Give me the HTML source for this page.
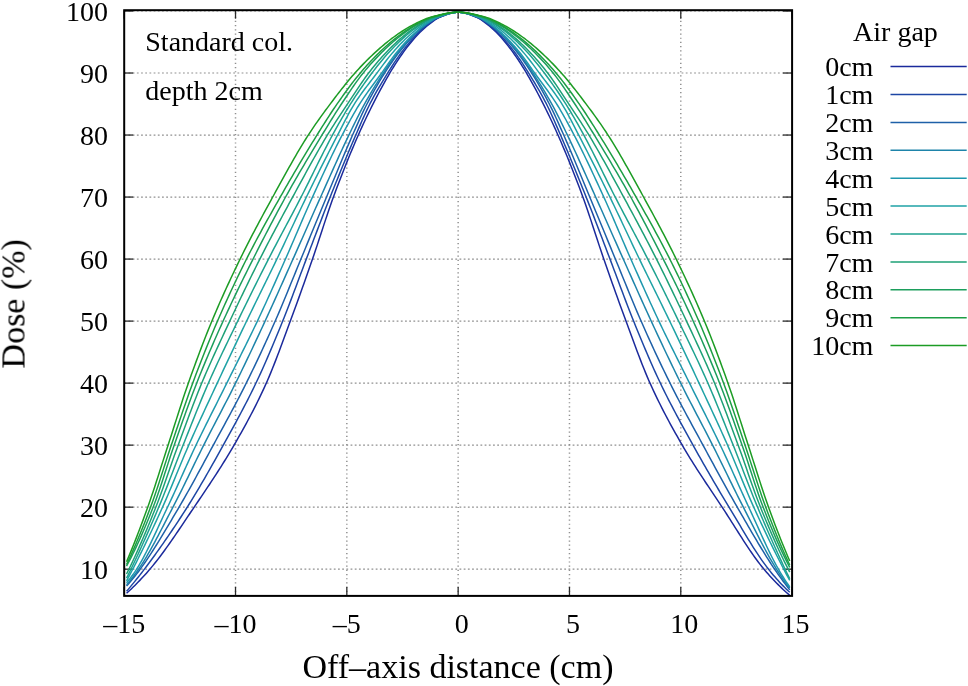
<!DOCTYPE html>
<html><head><meta charset="utf-8"><style>
html,body{margin:0;padding:0;background:#fff;}
svg{display:block;font-variant-ligatures:none;}
</style></head><body>
<svg width="968" height="686" viewBox="0 0 968 686">
<rect width="968" height="686" fill="#fff"/>
<g stroke="#909090" stroke-width="1.5" stroke-dasharray="1.2 2.99" stroke-dashoffset="0.2" fill="none"><line x1="235.52" y1="595.9" x2="235.52" y2="10.2"/><line x1="346.83" y1="595.9" x2="346.83" y2="10.2"/><line x1="458.15" y1="595.9" x2="458.15" y2="10.2"/><line x1="569.47" y1="595.9" x2="569.47" y2="10.2"/><line x1="680.78" y1="595.9" x2="680.78" y2="10.2"/><line x1="124.20" y1="569.18" x2="792.10" y2="569.18" stroke-width="1.2" stroke-dasharray="1.8 2.39" stroke-dashoffset="-0.1"/><line x1="124.20" y1="507.16" x2="792.10" y2="507.16" stroke-width="1.2" stroke-dasharray="1.8 2.39" stroke-dashoffset="-0.1"/><line x1="124.20" y1="445.14" x2="792.10" y2="445.14" stroke-width="1.2" stroke-dasharray="1.8 2.39" stroke-dashoffset="-0.1"/><line x1="124.20" y1="383.12" x2="792.10" y2="383.12" stroke-width="1.2" stroke-dasharray="1.8 2.39" stroke-dashoffset="-0.1"/><line x1="124.20" y1="321.10" x2="792.10" y2="321.10" stroke-width="1.2" stroke-dasharray="1.8 2.39" stroke-dashoffset="-0.1"/><line x1="124.20" y1="259.08" x2="792.10" y2="259.08" stroke-width="1.2" stroke-dasharray="1.8 2.39" stroke-dashoffset="-0.1"/><line x1="124.20" y1="197.06" x2="792.10" y2="197.06" stroke-width="1.2" stroke-dasharray="1.8 2.39" stroke-dashoffset="-0.1"/><line x1="124.20" y1="135.04" x2="792.10" y2="135.04" stroke-width="1.2" stroke-dasharray="1.8 2.39" stroke-dashoffset="-0.1"/><line x1="124.20" y1="73.02" x2="792.10" y2="73.02" stroke-width="1.2" stroke-dasharray="1.8 2.39" stroke-dashoffset="-0.1"/><line x1="124.20" y1="11.00" x2="792.10" y2="11.00" stroke-width="1.2" stroke-dasharray="1.8 2.39" stroke-dashoffset="-0.1"/></g>
<g stroke="#2a2a2a" stroke-width="1.3"><line x1="124.20" y1="595.9" x2="124.20" y2="586.90"/><line x1="124.20" y1="10.2" x2="124.20" y2="18.70"/><line x1="235.52" y1="595.9" x2="235.52" y2="586.90"/><line x1="235.52" y1="10.2" x2="235.52" y2="18.70"/><line x1="346.83" y1="595.9" x2="346.83" y2="586.90"/><line x1="346.83" y1="10.2" x2="346.83" y2="18.70"/><line x1="458.15" y1="595.9" x2="458.15" y2="586.90"/><line x1="458.15" y1="10.2" x2="458.15" y2="18.70"/><line x1="569.47" y1="595.9" x2="569.47" y2="586.90"/><line x1="569.47" y1="10.2" x2="569.47" y2="18.70"/><line x1="680.78" y1="595.9" x2="680.78" y2="586.90"/><line x1="680.78" y1="10.2" x2="680.78" y2="18.70"/><line x1="792.10" y1="595.9" x2="792.10" y2="586.90"/><line x1="792.10" y1="10.2" x2="792.10" y2="18.70"/><line x1="124.20" y1="569.18" x2="133.20" y2="569.18"/><line x1="792.10" y1="569.18" x2="783.10" y2="569.18"/><line x1="124.20" y1="507.16" x2="133.20" y2="507.16"/><line x1="792.10" y1="507.16" x2="783.10" y2="507.16"/><line x1="124.20" y1="445.14" x2="133.20" y2="445.14"/><line x1="792.10" y1="445.14" x2="783.10" y2="445.14"/><line x1="124.20" y1="383.12" x2="133.20" y2="383.12"/><line x1="792.10" y1="383.12" x2="783.10" y2="383.12"/><line x1="124.20" y1="321.10" x2="133.20" y2="321.10"/><line x1="792.10" y1="321.10" x2="783.10" y2="321.10"/><line x1="124.20" y1="259.08" x2="133.20" y2="259.08"/><line x1="792.10" y1="259.08" x2="783.10" y2="259.08"/><line x1="124.20" y1="197.06" x2="133.20" y2="197.06"/><line x1="792.10" y1="197.06" x2="783.10" y2="197.06"/><line x1="124.20" y1="135.04" x2="133.20" y2="135.04"/><line x1="792.10" y1="135.04" x2="783.10" y2="135.04"/><line x1="124.20" y1="73.02" x2="133.20" y2="73.02"/><line x1="792.10" y1="73.02" x2="783.10" y2="73.02"/><line x1="124.20" y1="11.00" x2="133.20" y2="11.00"/><line x1="792.10" y1="11.00" x2="783.10" y2="11.00"/></g>
<polyline fill="none" stroke="#1b2a9c" stroke-width="1.5" stroke-linejoin="round" points="126.55,593.31 128.21,591.79 129.87,590.25 131.52,588.67 133.18,587.07 134.84,585.44 136.50,583.78 138.16,582.09 139.81,580.37 141.47,578.61 143.13,576.82 144.79,575.00 146.45,573.15 148.10,571.26 149.76,569.34 151.42,567.38 153.08,565.37 154.74,563.32 156.39,561.23 158.05,559.09 159.71,556.92 161.37,554.72 163.03,552.48 164.68,550.21 166.34,547.91 168.00,545.59 169.66,543.24 171.32,540.87 172.97,538.48 174.63,536.07 176.29,533.65 177.95,531.21 179.61,528.77 181.26,526.31 182.92,523.85 184.58,521.38 186.24,518.91 187.90,516.44 189.55,513.97 191.21,511.51 192.87,509.05 194.53,506.60 196.19,504.16 197.84,501.71 199.50,499.26 201.16,496.81 202.82,494.36 204.48,491.90 206.13,489.43 207.79,486.95 209.45,484.46 211.11,481.95 212.77,479.44 214.42,476.90 216.08,474.35 217.74,471.78 219.40,469.19 221.06,466.58 222.71,463.94 224.37,461.27 226.03,458.58 227.69,455.87 229.35,453.12 231.00,450.34 232.66,447.52 234.32,444.67 235.98,441.80 237.64,438.91 239.29,435.99 240.95,433.05 242.61,430.09 244.27,427.09 245.93,424.06 247.58,420.99 249.24,417.89 250.90,414.75 252.56,411.56 254.22,408.33 255.87,405.04 257.53,401.71 259.19,398.32 260.85,394.88 262.51,391.37 264.16,387.81 265.82,384.18 267.48,380.46 269.14,376.62 270.80,372.65 272.45,368.57 274.11,364.40 275.77,360.14 277.43,355.81 279.09,351.42 280.74,346.98 282.40,342.51 284.06,338.01 285.72,333.50 287.38,329.00 289.03,324.51 290.69,320.05 292.35,315.57 294.01,311.06 295.67,306.52 297.32,301.96 298.98,297.37 300.64,292.75 302.30,288.11 303.96,283.44 305.61,278.75 307.27,274.05 308.93,269.32 310.59,264.57 312.25,259.81 313.90,255.00 315.56,250.09 317.22,245.12 318.88,240.09 320.54,235.02 322.19,229.95 323.85,224.89 325.51,219.87 327.17,214.89 328.83,210.00 330.48,205.20 332.14,200.52 333.80,195.98 335.46,191.51 337.12,187.10 338.77,182.73 340.43,178.42 342.09,174.15 343.75,169.93 345.41,165.77 347.06,161.65 348.72,157.58 350.38,153.56 352.04,149.59 353.70,145.67 355.35,141.80 357.01,137.98 358.67,134.20 360.33,130.49 361.99,126.84 363.64,123.25 365.30,119.72 366.96,116.24 368.62,112.82 370.28,109.46 371.93,106.14 373.59,102.87 375.25,99.63 376.91,96.43 378.57,93.27 380.22,90.15 381.88,87.07 383.54,84.04 385.20,81.07 386.86,78.15 388.51,75.28 390.17,72.48 391.83,69.73 393.49,67.04 395.15,64.40 396.80,61.81 398.46,59.29 400.12,56.84 401.78,54.45 403.44,52.12 405.09,49.86 406.75,47.67 408.41,45.53 410.07,43.45 411.73,41.42 413.38,39.47 415.04,37.58 416.70,35.77 418.36,34.02 420.02,32.32 421.67,30.69 423.33,29.14 424.99,27.64 426.65,26.20 428.31,24.82 429.96,23.54 431.62,22.32 433.28,21.11 434.94,19.95 436.60,18.88 438.25,17.95 439.91,17.19 441.57,16.53 443.23,15.88 444.89,15.24 446.54,14.64 448.20,14.07 449.86,13.56 451.52,13.12 453.18,12.75 454.83,12.48 456.49,12.30 458.15,12.24 459.81,12.30 461.47,12.48 463.12,12.75 464.78,13.12 466.44,13.56 468.10,14.07 469.76,14.64 471.41,15.24 473.07,15.88 474.73,16.53 476.39,17.19 478.05,17.95 479.70,18.88 481.36,19.95 483.02,21.11 484.68,22.32 486.34,23.54 487.99,24.82 489.65,26.20 491.31,27.64 492.97,29.14 494.63,30.69 496.28,32.32 497.94,34.02 499.60,35.77 501.26,37.58 502.92,39.47 504.57,41.42 506.23,43.45 507.89,45.53 509.55,47.67 511.21,49.86 512.86,52.12 514.52,54.45 516.18,56.84 517.84,59.29 519.50,61.81 521.15,64.40 522.81,67.04 524.47,69.73 526.13,72.48 527.79,75.28 529.44,78.15 531.10,81.07 532.76,84.04 534.42,87.07 536.08,90.15 537.73,93.27 539.39,96.43 541.05,99.63 542.71,102.87 544.37,106.14 546.02,109.46 547.68,112.82 549.34,116.24 551.00,119.72 552.66,123.25 554.31,126.84 555.97,130.49 557.63,134.20 559.29,137.98 560.95,141.80 562.60,145.67 564.26,149.59 565.92,153.56 567.58,157.58 569.24,161.65 570.89,165.77 572.55,169.93 574.21,174.15 575.87,178.42 577.53,182.73 579.18,187.10 580.84,191.51 582.50,195.98 584.16,200.52 585.82,205.20 587.47,210.00 589.13,214.89 590.79,219.87 592.45,224.89 594.11,229.95 595.76,235.02 597.42,240.09 599.08,245.12 600.74,250.09 602.40,255.00 604.05,259.81 605.71,264.57 607.37,269.32 609.03,274.05 610.69,278.75 612.34,283.44 614.00,288.11 615.66,292.75 617.32,297.37 618.98,301.96 620.63,306.52 622.29,311.06 623.95,315.57 625.61,320.05 627.27,324.51 628.92,329.00 630.58,333.50 632.24,338.01 633.90,342.51 635.56,346.98 637.21,351.42 638.87,355.81 640.53,360.14 642.19,364.40 643.85,368.57 645.50,372.65 647.16,376.62 648.82,380.46 650.48,384.18 652.14,387.81 653.79,391.37 655.45,394.88 657.11,398.32 658.77,401.71 660.43,405.04 662.08,408.33 663.74,411.56 665.40,414.75 667.06,417.89 668.72,420.99 670.37,424.06 672.03,427.09 673.69,430.09 675.35,433.05 677.01,435.99 678.66,438.91 680.32,441.80 681.98,444.67 683.64,447.52 685.30,450.33 686.95,453.10 688.61,455.83 690.27,458.53 691.93,461.20 693.59,463.84 695.24,466.45 696.90,469.04 698.56,471.61 700.22,474.16 701.88,476.69 703.53,479.21 705.19,481.72 706.85,484.21 708.51,486.70 710.17,489.18 711.82,491.66 713.48,494.13 715.14,496.61 716.80,499.10 718.46,501.58 720.11,504.08 721.77,506.59 723.43,509.11 725.09,511.66 726.75,514.23 728.40,516.82 730.06,519.43 731.72,522.04 733.38,524.67 735.04,527.29 736.69,529.91 738.35,532.52 740.01,535.13 741.67,537.72 743.33,540.29 744.98,542.84 746.64,545.36 748.30,547.86 749.96,550.31 751.62,552.73 753.27,555.11 754.93,557.44 756.59,559.72 758.25,561.94 759.91,564.11 761.56,566.21 763.22,568.25 764.88,570.22 766.54,572.15 768.20,574.04 769.85,575.90 771.51,577.72 773.17,579.51 774.83,581.26 776.49,582.97 778.14,584.64 779.80,586.28 781.46,587.88 783.12,589.44 784.78,590.96 786.43,592.44 788.09,593.89 789.75,595.29"/>
<polyline fill="none" stroke="#1d46a4" stroke-width="1.5" stroke-linejoin="round" points="126.55,591.32 128.21,589.36 129.87,587.38 131.52,585.39 133.18,583.38 134.84,581.35 136.50,579.30 138.16,577.23 139.81,575.13 141.47,573.00 143.13,570.85 144.79,568.67 146.45,566.46 148.10,564.24 149.76,562.01 151.42,559.76 153.08,557.49 154.74,555.21 156.39,552.91 158.05,550.60 159.71,548.27 161.37,545.92 163.03,543.56 164.68,541.18 166.34,538.79 168.00,536.38 169.66,533.95 171.32,531.50 172.97,529.04 174.63,526.57 176.29,524.07 177.95,521.56 179.61,519.03 181.26,516.49 182.92,513.93 184.58,511.35 186.24,508.75 187.90,506.14 189.55,503.50 191.21,500.82 192.87,498.12 194.53,495.40 196.19,492.64 197.84,489.86 199.50,487.06 201.16,484.24 202.82,481.39 204.48,478.53 206.13,475.65 207.79,472.75 209.45,469.83 211.11,466.90 212.77,463.96 214.42,461.01 216.08,458.04 217.74,455.07 219.40,452.09 221.06,449.10 222.71,446.11 224.37,443.11 226.03,440.12 227.69,437.12 229.35,434.12 231.00,431.11 232.66,428.10 234.32,425.07 235.98,422.02 237.64,418.96 239.29,415.87 240.95,412.76 242.61,409.63 244.27,406.47 245.93,403.27 247.58,400.04 249.24,396.77 250.90,393.47 252.56,390.12 254.22,386.72 255.87,383.28 257.53,379.78 259.19,376.22 260.85,372.61 262.51,368.94 264.16,365.22 265.82,361.46 267.48,357.65 269.14,353.80 270.80,349.90 272.45,345.98 274.11,342.02 275.77,338.03 277.43,334.01 279.09,329.97 280.74,325.91 282.40,321.83 284.06,317.72 285.72,313.53 287.38,309.29 289.03,304.98 290.69,300.64 292.35,296.25 294.01,291.84 295.67,287.41 297.32,282.96 298.98,278.52 300.64,274.08 302.30,269.65 303.96,265.25 305.61,260.88 307.27,256.54 308.93,252.19 310.59,247.83 312.25,243.47 313.90,239.10 315.56,234.74 317.22,230.39 318.88,226.04 320.54,221.71 322.19,217.39 323.85,213.10 325.51,208.83 327.17,204.60 328.83,200.39 330.48,196.22 332.14,192.08 333.80,187.94 335.46,183.82 337.12,179.72 338.77,175.64 340.43,171.57 342.09,167.53 343.75,163.51 345.41,159.51 347.06,155.53 348.72,151.58 350.38,147.66 352.04,143.76 353.70,139.90 355.35,136.07 357.01,132.25 358.67,128.42 360.33,124.61 361.99,120.82 363.64,117.10 365.30,113.45 366.96,109.90 368.62,106.48 370.28,103.20 371.93,100.03 373.59,96.94 375.25,93.93 376.91,90.99 378.57,88.11 380.22,85.29 381.88,82.51 383.54,79.77 385.20,77.06 386.86,74.38 388.51,71.71 390.17,69.08 391.83,66.48 393.49,63.93 395.15,61.43 396.80,58.99 398.46,56.60 400.12,54.29 401.78,52.04 403.44,49.85 405.09,47.72 406.75,45.64 408.41,43.62 410.07,41.65 411.73,39.75 413.38,37.91 415.04,36.14 416.70,34.43 418.36,32.77 420.02,31.17 421.67,29.64 423.33,28.18 424.99,26.75 426.65,25.39 428.31,24.11 429.96,22.91 431.62,21.73 433.28,20.57 434.94,19.48 436.60,18.49 438.25,17.65 439.91,16.97 441.57,16.33 443.23,15.70 444.89,15.09 446.54,14.51 448.20,13.97 449.86,13.49 451.52,13.07 453.18,12.72 454.83,12.46 456.49,12.30 458.15,12.24 459.81,12.30 461.47,12.46 463.12,12.72 464.78,13.07 466.44,13.49 468.10,13.97 469.76,14.51 471.41,15.09 473.07,15.70 474.73,16.33 476.39,16.97 478.05,17.65 479.70,18.49 481.36,19.48 483.02,20.57 484.68,21.73 486.34,22.91 487.99,24.11 489.65,25.39 491.31,26.75 492.97,28.18 494.63,29.64 496.28,31.17 497.94,32.77 499.60,34.43 501.26,36.14 502.92,37.91 504.57,39.75 506.23,41.65 507.89,43.62 509.55,45.64 511.21,47.72 512.86,49.85 514.52,52.04 516.18,54.29 517.84,56.60 519.50,58.99 521.15,61.43 522.81,63.93 524.47,66.48 526.13,69.08 527.79,71.71 529.44,74.38 531.10,77.06 532.76,79.77 534.42,82.51 536.08,85.29 537.73,88.11 539.39,90.99 541.05,93.93 542.71,96.94 544.37,100.03 546.02,103.20 547.68,106.48 549.34,109.90 551.00,113.45 552.66,117.10 554.31,120.82 555.97,124.61 557.63,128.42 559.29,132.25 560.95,136.07 562.60,139.90 564.26,143.76 565.92,147.66 567.58,151.58 569.24,155.53 570.89,159.51 572.55,163.51 574.21,167.53 575.87,171.57 577.53,175.64 579.18,179.72 580.84,183.82 582.50,187.94 584.16,192.08 585.82,196.22 587.47,200.39 589.13,204.60 590.79,208.83 592.45,213.10 594.11,217.39 595.76,221.71 597.42,226.04 599.08,230.39 600.74,234.74 602.40,239.10 604.05,243.47 605.71,247.83 607.37,252.19 609.03,256.54 610.69,260.88 612.34,265.25 614.00,269.65 615.66,274.08 617.32,278.52 618.98,282.96 620.63,287.41 622.29,291.84 623.95,296.25 625.61,300.64 627.27,304.98 628.92,309.29 630.58,313.53 632.24,317.72 633.90,321.83 635.56,325.91 637.21,329.97 638.87,334.01 640.53,338.03 642.19,342.02 643.85,345.98 645.50,349.90 647.16,353.80 648.82,357.65 650.48,361.46 652.14,365.22 653.79,368.94 655.45,372.61 657.11,376.22 658.77,379.78 660.43,383.28 662.08,386.72 663.74,390.12 665.40,393.47 667.06,396.77 668.72,400.04 670.37,403.27 672.03,406.47 673.69,409.63 675.35,412.76 677.01,415.87 678.66,418.96 680.32,422.02 681.98,425.07 683.64,428.10 685.30,431.11 686.95,434.12 688.61,437.12 690.27,440.12 691.93,443.11 693.59,446.11 695.24,449.09 696.90,452.06 698.56,455.02 700.22,457.96 701.88,460.90 703.53,463.81 705.19,466.72 706.85,469.61 708.51,472.49 710.17,475.35 711.82,478.21 713.48,481.05 715.14,483.88 716.80,486.70 718.46,489.50 720.11,492.30 721.77,495.08 723.43,497.85 725.09,500.61 726.75,503.36 728.40,506.10 730.06,508.83 731.72,511.58 733.38,514.35 735.04,517.12 736.69,519.91 738.35,522.70 740.01,525.49 741.67,528.27 743.33,531.05 744.98,533.81 746.64,536.55 748.30,539.28 749.96,541.97 751.62,544.64 753.27,547.28 754.93,549.88 756.59,552.43 758.25,554.94 759.91,557.40 761.56,559.80 763.22,562.15 764.88,564.43 766.54,566.65 768.20,568.79 769.85,570.88 771.51,572.91 773.17,574.90 774.83,576.84 776.49,578.73 778.14,580.59 779.80,582.39 781.46,584.16 783.12,585.87 784.78,587.55 786.43,589.18 788.09,590.77 789.75,592.31"/>
<polyline fill="none" stroke="#1e60a8" stroke-width="1.5" stroke-linejoin="round" points="126.55,586.11 128.21,584.20 129.87,582.25 131.52,580.28 133.18,578.26 134.84,576.20 136.50,574.09 138.16,571.93 139.81,569.71 141.47,567.42 143.13,565.09 144.79,562.72 146.45,560.30 148.10,557.84 149.76,555.34 151.42,552.80 153.08,550.23 154.74,547.62 156.39,544.99 158.05,542.32 159.71,539.64 161.37,536.93 163.03,534.19 164.68,531.44 166.34,528.68 168.00,525.89 169.66,523.10 171.32,520.30 172.97,517.49 174.63,514.67 176.29,511.85 177.95,509.03 179.61,506.21 181.26,503.37 182.92,500.50 184.58,497.61 186.24,494.69 187.90,491.75 189.55,488.78 191.21,485.80 192.87,482.80 194.53,479.79 196.19,476.76 197.84,473.72 199.50,470.67 201.16,467.61 202.82,464.55 204.48,461.48 206.13,458.41 207.79,455.33 209.45,452.26 211.11,449.19 212.77,446.13 214.42,443.07 216.08,440.01 217.74,436.97 219.40,433.92 221.06,430.88 222.71,427.83 224.37,424.78 226.03,421.73 227.69,418.66 229.35,415.59 231.00,412.50 232.66,409.40 234.32,406.28 235.98,403.14 237.64,399.98 239.29,396.79 240.95,393.58 242.61,390.34 244.27,387.07 245.93,383.77 247.58,380.43 249.24,377.07 250.90,373.68 252.56,370.27 254.22,366.83 255.87,363.36 257.53,359.87 259.19,356.35 260.85,352.81 262.51,349.24 264.16,345.65 265.82,342.03 267.48,338.38 269.14,334.72 270.80,331.02 272.45,327.31 274.11,323.57 275.77,319.80 277.43,315.99 279.09,312.12 280.74,308.21 282.40,304.25 284.06,300.26 285.72,296.25 287.38,292.21 289.03,288.15 290.69,284.08 292.35,280.00 294.01,275.92 295.67,271.85 297.32,267.78 298.98,263.73 300.64,259.71 302.30,255.70 303.96,251.68 305.61,247.66 307.27,243.63 308.93,239.60 310.59,235.57 312.25,231.54 313.90,227.51 315.56,223.49 317.22,219.46 318.88,215.45 320.54,211.43 322.19,207.43 323.85,203.43 325.51,199.44 327.17,195.46 328.83,191.47 330.48,187.46 332.14,183.46 333.80,179.45 335.46,175.44 337.12,171.43 338.77,167.44 340.43,163.46 342.09,159.49 343.75,155.55 345.41,151.64 347.06,147.75 348.72,143.90 350.38,140.08 352.04,136.31 353.70,132.57 355.35,128.83 357.01,125.11 358.67,121.41 360.33,117.77 361.99,114.19 363.64,110.69 365.30,107.29 366.96,104.01 368.62,100.82 370.28,97.70 371.93,94.63 373.59,91.63 375.25,88.68 376.91,85.79 378.57,82.96 380.22,80.18 381.88,77.45 383.54,74.78 385.20,72.16 386.86,69.59 388.51,67.08 390.17,64.63 391.83,62.23 393.49,59.88 395.15,57.59 396.80,55.35 398.46,53.17 400.12,51.04 401.78,48.97 403.44,46.94 405.09,44.97 406.75,43.05 408.41,41.18 410.07,39.37 411.73,37.62 413.38,35.93 415.04,34.30 416.70,32.71 418.36,31.17 420.02,29.71 421.67,28.30 423.33,26.93 424.99,25.62 426.65,24.37 428.31,23.21 429.96,22.08 431.62,20.95 433.28,19.88 434.94,18.89 436.60,18.02 438.25,17.29 439.91,16.68 441.57,16.07 443.23,15.47 444.89,14.89 446.54,14.35 448.20,13.85 449.86,13.40 451.52,13.01 453.18,12.69 454.83,12.44 456.49,12.29 458.15,12.24 459.81,12.29 461.47,12.44 463.12,12.69 464.78,13.01 466.44,13.40 468.10,13.85 469.76,14.35 471.41,14.89 473.07,15.47 474.73,16.07 476.39,16.68 478.05,17.29 479.70,18.02 481.36,18.89 483.02,19.88 484.68,20.95 486.34,22.08 487.99,23.21 489.65,24.37 491.31,25.62 492.97,26.93 494.63,28.30 496.28,29.71 497.94,31.17 499.60,32.71 501.26,34.30 502.92,35.93 504.57,37.62 506.23,39.37 507.89,41.18 509.55,43.05 511.21,44.97 512.86,46.94 514.52,48.97 516.18,51.04 517.84,53.17 519.50,55.35 521.15,57.59 522.81,59.88 524.47,62.23 526.13,64.63 527.79,67.08 529.44,69.59 531.10,72.16 532.76,74.78 534.42,77.45 536.08,80.18 537.73,82.96 539.39,85.79 541.05,88.68 542.71,91.63 544.37,94.63 546.02,97.70 547.68,100.82 549.34,104.01 551.00,107.29 552.66,110.69 554.31,114.19 555.97,117.77 557.63,121.41 559.29,125.11 560.95,128.83 562.60,132.57 564.26,136.31 565.92,140.08 567.58,143.90 569.24,147.75 570.89,151.64 572.55,155.55 574.21,159.49 575.87,163.46 577.53,167.44 579.18,171.43 580.84,175.44 582.50,179.45 584.16,183.46 585.82,187.46 587.47,191.47 589.13,195.46 590.79,199.44 592.45,203.43 594.11,207.43 595.76,211.43 597.42,215.45 599.08,219.46 600.74,223.49 602.40,227.51 604.05,231.54 605.71,235.57 607.37,239.60 609.03,243.63 610.69,247.66 612.34,251.68 614.00,255.70 615.66,259.71 617.32,263.73 618.98,267.78 620.63,271.85 622.29,275.92 623.95,280.00 625.61,284.08 627.27,288.15 628.92,292.21 630.58,296.25 632.24,300.26 633.90,304.25 635.56,308.21 637.21,312.12 638.87,315.99 640.53,319.80 642.19,323.57 643.85,327.31 645.50,331.02 647.16,334.72 648.82,338.38 650.48,342.03 652.14,345.65 653.79,349.24 655.45,352.81 657.11,356.35 658.77,359.87 660.43,363.36 662.08,366.83 663.74,370.27 665.40,373.68 667.06,377.07 668.72,380.43 670.37,383.77 672.03,387.07 673.69,390.34 675.35,393.58 677.01,396.79 678.66,399.98 680.32,403.14 681.98,406.28 683.64,409.40 685.30,412.50 686.95,415.59 688.61,418.66 690.27,421.73 691.93,424.78 693.59,427.83 695.24,430.88 696.90,433.92 698.56,436.97 700.22,440.01 701.88,443.07 703.53,446.13 705.19,449.19 706.85,452.25 708.51,455.31 710.17,458.37 711.82,461.42 713.48,464.47 715.14,467.52 716.80,470.56 718.46,473.59 720.11,476.61 721.77,479.63 723.43,482.63 725.09,485.63 726.75,488.61 728.40,491.58 730.06,494.53 731.72,497.47 733.38,500.40 735.04,503.31 736.69,506.20 738.35,509.07 740.01,511.95 741.67,514.83 743.33,517.71 744.98,520.59 746.64,523.46 748.30,526.33 749.96,529.18 751.62,532.03 753.27,534.86 754.93,537.68 756.59,540.48 758.25,543.26 759.91,546.01 761.56,548.75 763.22,551.46 764.88,554.14 766.54,556.79 768.20,559.41 769.85,561.99 771.51,564.54 773.17,567.05 774.83,569.52 776.49,571.94 778.14,574.31 779.80,576.64 781.46,578.93 783.12,581.19 784.78,583.41 786.43,585.60 788.09,587.76 789.75,589.89"/>
<polyline fill="none" stroke="#1e84aa" stroke-width="1.5" stroke-linejoin="round" points="126.55,584.81 128.21,582.87 129.87,580.88 131.52,578.83 133.18,576.71 134.84,574.53 136.50,572.26 138.16,569.90 139.81,567.45 141.47,564.91 143.13,562.28 144.79,559.58 146.45,556.81 148.10,553.96 149.76,551.06 151.42,548.10 153.08,545.09 154.74,542.04 156.39,538.95 158.05,535.82 159.71,532.67 161.37,529.49 163.03,526.30 164.68,523.10 166.34,519.89 168.00,516.68 169.66,513.48 171.32,510.29 172.97,507.11 174.63,503.93 176.29,500.70 177.95,497.43 179.61,494.14 181.26,490.81 182.92,487.46 184.58,484.09 186.24,480.70 187.90,477.30 189.55,473.90 191.21,470.49 192.87,467.08 194.53,463.68 196.19,460.29 197.84,456.91 199.50,453.55 201.16,450.21 202.82,446.89 204.48,443.61 206.13,440.35 207.79,437.11 209.45,433.89 211.11,430.68 212.77,427.49 214.42,424.31 216.08,421.13 217.74,417.95 219.40,414.78 221.06,411.60 222.71,408.41 224.37,405.22 226.03,402.02 227.69,398.79 229.35,395.55 231.00,392.29 232.66,389.01 234.32,385.70 235.98,382.36 237.64,378.99 239.29,375.61 240.95,372.21 242.61,368.79 244.27,365.35 245.93,361.90 247.58,358.44 249.24,354.96 250.90,351.47 252.56,347.96 254.22,344.44 255.87,340.92 257.53,337.38 259.19,333.83 260.85,330.27 262.51,326.70 264.16,323.12 265.82,319.54 267.48,315.93 269.14,312.31 270.80,308.67 272.45,305.01 274.11,301.34 275.77,297.66 277.43,293.97 279.09,290.27 280.74,286.56 282.40,282.84 284.06,279.12 285.72,275.40 287.38,271.68 289.03,267.96 290.69,264.24 292.35,260.53 294.01,256.83 295.67,253.11 297.32,249.38 298.98,245.65 300.64,241.92 302.30,238.18 303.96,234.44 305.61,230.69 307.27,226.95 308.93,223.21 310.59,219.47 312.25,215.74 313.90,212.01 315.56,208.30 317.22,204.59 318.88,200.89 320.54,197.20 322.19,193.52 323.85,189.82 325.51,186.13 327.17,182.42 328.83,178.72 330.48,175.02 332.14,171.33 333.80,167.65 335.46,163.97 337.12,160.32 338.77,156.68 340.43,153.06 342.09,149.47 343.75,145.91 345.41,142.37 347.06,138.87 348.72,135.41 350.38,131.97 352.04,128.54 353.70,125.12 355.35,121.73 357.01,118.38 358.67,115.08 360.33,111.84 361.99,108.68 363.64,105.59 365.30,102.59 366.96,99.65 368.62,96.76 370.28,93.93 371.93,91.14 373.59,88.39 375.25,85.69 376.91,83.03 378.57,80.41 380.22,77.82 381.88,75.26 383.54,72.73 385.20,70.23 386.86,67.77 388.51,65.34 390.17,62.96 391.83,60.62 393.49,58.34 395.15,56.11 396.80,53.94 398.46,51.83 400.12,49.77 401.78,47.76 403.44,45.81 405.09,43.90 406.75,42.04 408.41,40.23 410.07,38.48 411.73,36.79 413.38,35.16 415.04,33.57 416.70,32.03 418.36,30.55 420.02,29.14 421.67,27.77 423.33,26.45 424.99,25.18 426.65,23.98 428.31,22.86 429.96,21.74 431.62,20.65 433.28,19.61 434.94,18.67 436.60,17.84 438.25,17.16 439.91,16.56 441.57,15.96 443.23,15.38 444.89,14.82 446.54,14.29 448.20,13.80 449.86,13.36 451.52,12.98 453.18,12.67 454.83,12.44 456.49,12.29 458.15,12.24 459.81,12.29 461.47,12.44 463.12,12.67 464.78,12.98 466.44,13.36 468.10,13.80 469.76,14.29 471.41,14.82 473.07,15.38 474.73,15.96 476.39,16.56 478.05,17.16 479.70,17.84 481.36,18.67 483.02,19.61 484.68,20.65 486.34,21.74 487.99,22.86 489.65,23.98 491.31,25.18 492.97,26.45 494.63,27.77 496.28,29.14 497.94,30.55 499.60,32.03 501.26,33.57 502.92,35.16 504.57,36.79 506.23,38.48 507.89,40.23 509.55,42.04 511.21,43.90 512.86,45.81 514.52,47.76 516.18,49.77 517.84,51.83 519.50,53.94 521.15,56.11 522.81,58.34 524.47,60.62 526.13,62.96 527.79,65.34 529.44,67.77 531.10,70.23 532.76,72.73 534.42,75.26 536.08,77.82 537.73,80.41 539.39,83.03 541.05,85.69 542.71,88.39 544.37,91.14 546.02,93.93 547.68,96.76 549.34,99.65 551.00,102.59 552.66,105.59 554.31,108.68 555.97,111.84 557.63,115.08 559.29,118.38 560.95,121.73 562.60,125.12 564.26,128.54 565.92,131.97 567.58,135.41 569.24,138.87 570.89,142.37 572.55,145.91 574.21,149.47 575.87,153.06 577.53,156.68 579.18,160.32 580.84,163.97 582.50,167.65 584.16,171.33 585.82,175.02 587.47,178.72 589.13,182.42 590.79,186.13 592.45,189.82 594.11,193.52 595.76,197.20 597.42,200.89 599.08,204.59 600.74,208.30 602.40,212.01 604.05,215.74 605.71,219.47 607.37,223.21 609.03,226.95 610.69,230.69 612.34,234.44 614.00,238.18 615.66,241.92 617.32,245.65 618.98,249.38 620.63,253.11 622.29,256.83 623.95,260.53 625.61,264.24 627.27,267.96 628.92,271.68 630.58,275.40 632.24,279.12 633.90,282.84 635.56,286.56 637.21,290.27 638.87,293.97 640.53,297.66 642.19,301.34 643.85,305.01 645.50,308.67 647.16,312.31 648.82,315.93 650.48,319.54 652.14,323.12 653.79,326.70 655.45,330.27 657.11,333.83 658.77,337.38 660.43,340.92 662.08,344.44 663.74,347.96 665.40,351.47 667.06,354.96 668.72,358.44 670.37,361.90 672.03,365.35 673.69,368.79 675.35,372.21 677.01,375.61 678.66,378.99 680.32,382.36 681.98,385.70 683.64,389.01 685.30,392.29 686.95,395.55 688.61,398.79 690.27,402.02 691.93,405.22 693.59,408.41 695.24,411.60 696.90,414.78 698.56,417.95 700.22,421.13 701.88,424.31 703.53,427.49 705.19,430.68 706.85,433.89 708.51,437.11 710.17,440.35 711.82,443.61 713.48,446.89 715.14,450.20 716.80,453.53 718.46,456.88 720.11,460.24 721.77,463.62 723.43,467.00 725.09,470.39 726.75,473.78 728.40,477.17 730.06,480.56 731.72,483.94 733.38,487.31 735.04,490.66 736.69,494.00 738.35,497.32 740.01,500.61 741.67,503.88 743.33,507.11 744.98,510.34 746.64,513.59 748.30,516.85 749.96,520.12 751.62,523.39 753.27,526.65 754.93,529.91 756.59,533.16 758.25,536.38 759.91,539.58 761.56,542.76 763.22,545.89 764.88,548.99 766.54,552.05 768.20,555.05 769.85,558.01 771.51,560.90 773.17,563.72 774.83,566.48 776.49,569.16 778.14,571.76 779.80,574.28 781.46,576.74 783.12,579.13 784.78,581.46 786.43,583.74 788.09,585.97 789.75,588.16"/>
<polyline fill="none" stroke="#1f98ae" stroke-width="1.5" stroke-linejoin="round" points="126.55,582.82 128.21,580.82 129.87,578.74 131.52,576.58 133.18,574.31 134.84,571.93 136.50,569.42 138.16,566.77 139.81,563.99 141.47,561.08 143.13,558.06 144.79,554.94 146.45,551.72 148.10,548.43 149.76,545.06 151.42,541.63 153.08,538.15 154.74,534.63 156.39,531.08 158.05,527.50 159.71,523.92 161.37,520.34 163.03,516.77 164.68,513.22 166.34,509.70 168.00,506.22 169.66,502.71 171.32,499.17 172.97,495.58 174.63,491.96 176.29,488.32 177.95,484.66 179.61,480.98 181.26,477.30 182.92,473.61 184.58,469.93 186.24,466.26 187.90,462.60 189.55,458.96 191.21,455.35 192.87,451.78 194.53,448.24 196.19,444.75 197.84,441.30 199.50,437.87 201.16,434.46 202.82,431.08 204.48,427.72 206.13,424.38 207.79,421.05 209.45,417.73 211.11,414.43 212.77,411.12 214.42,407.83 216.08,404.54 217.74,401.24 219.40,397.94 221.06,394.64 222.71,391.33 224.37,388.01 226.03,384.67 227.69,381.33 229.35,377.99 231.00,374.66 232.66,371.35 234.32,368.03 235.98,364.72 237.64,361.41 239.29,358.10 240.95,354.78 242.61,351.45 244.27,348.12 245.93,344.77 247.58,341.41 249.24,338.04 250.90,334.64 252.56,331.22 254.22,327.78 255.87,324.32 257.53,320.82 259.19,317.30 260.85,313.74 262.51,310.16 264.16,306.56 265.82,302.94 267.48,299.30 269.14,295.64 270.80,291.96 272.45,288.27 274.11,284.57 275.77,280.86 277.43,277.14 279.09,273.41 280.74,269.68 282.40,265.95 284.06,262.21 285.72,258.48 287.38,254.72 289.03,250.93 290.69,247.12 292.35,243.28 294.01,239.43 295.67,235.57 297.32,231.70 298.98,227.84 300.64,223.98 302.30,220.13 303.96,216.30 305.61,212.50 307.27,208.72 308.93,204.98 310.59,201.27 312.25,197.62 313.90,193.99 315.56,190.37 317.22,186.76 318.88,183.16 320.54,179.57 322.19,176.00 323.85,172.45 325.51,168.91 327.17,165.40 328.83,161.92 330.48,158.46 332.14,155.04 333.80,151.64 335.46,148.28 337.12,144.96 338.77,141.68 340.43,138.44 342.09,135.25 343.75,132.09 345.41,128.96 347.06,125.85 348.72,122.78 350.38,119.76 352.04,116.78 353.70,113.86 355.35,111.01 357.01,108.22 358.67,105.51 360.33,102.89 361.99,100.34 363.64,97.87 365.30,95.46 366.96,93.10 368.62,90.78 370.28,88.50 371.93,86.24 373.59,84.00 375.25,81.76 376.91,79.52 378.57,77.27 380.22,75.00 381.88,72.70 383.54,70.35 385.20,67.99 386.86,65.62 388.51,63.26 390.17,60.93 391.83,58.64 393.49,56.42 395.15,54.27 396.80,52.20 398.46,50.18 400.12,48.21 401.78,46.28 403.44,44.40 405.09,42.57 406.75,40.78 408.41,39.05 410.07,37.38 411.73,35.77 413.38,34.20 415.04,32.68 416.70,31.20 418.36,29.79 420.02,28.44 421.67,27.12 423.33,25.84 424.99,24.63 426.65,23.50 428.31,22.41 429.96,21.32 431.62,20.27 433.28,19.29 434.94,18.39 436.60,17.63 438.25,17.00 439.91,16.41 441.57,15.83 443.23,15.26 444.89,14.72 446.54,14.21 448.20,13.74 449.86,13.32 451.52,12.95 453.18,12.65 454.83,12.43 456.49,12.29 458.15,12.24 459.81,12.29 461.47,12.43 463.12,12.65 464.78,12.95 466.44,13.32 468.10,13.74 469.76,14.21 471.41,14.72 473.07,15.26 474.73,15.83 476.39,16.41 478.05,17.00 479.70,17.63 481.36,18.39 483.02,19.29 484.68,20.27 486.34,21.32 487.99,22.41 489.65,23.50 491.31,24.63 492.97,25.84 494.63,27.12 496.28,28.44 497.94,29.79 499.60,31.20 501.26,32.68 502.92,34.20 504.57,35.77 506.23,37.38 507.89,39.05 509.55,40.78 511.21,42.57 512.86,44.40 514.52,46.28 516.18,48.21 517.84,50.18 519.50,52.20 521.15,54.27 522.81,56.42 524.47,58.64 526.13,60.93 527.79,63.26 529.44,65.62 531.10,67.99 532.76,70.35 534.42,72.70 536.08,75.00 537.73,77.27 539.39,79.52 541.05,81.76 542.71,84.00 544.37,86.24 546.02,88.50 547.68,90.78 549.34,93.10 551.00,95.46 552.66,97.87 554.31,100.34 555.97,102.89 557.63,105.51 559.29,108.22 560.95,111.01 562.60,113.86 564.26,116.78 565.92,119.76 567.58,122.78 569.24,125.85 570.89,128.96 572.55,132.09 574.21,135.25 575.87,138.44 577.53,141.68 579.18,144.96 580.84,148.28 582.50,151.64 584.16,155.04 585.82,158.46 587.47,161.92 589.13,165.40 590.79,168.91 592.45,172.45 594.11,176.00 595.76,179.57 597.42,183.16 599.08,186.76 600.74,190.37 602.40,193.99 604.05,197.62 605.71,201.27 607.37,204.98 609.03,208.72 610.69,212.50 612.34,216.30 614.00,220.13 615.66,223.98 617.32,227.84 618.98,231.70 620.63,235.57 622.29,239.43 623.95,243.28 625.61,247.12 627.27,250.93 628.92,254.72 630.58,258.48 632.24,262.21 633.90,265.95 635.56,269.68 637.21,273.41 638.87,277.14 640.53,280.86 642.19,284.57 643.85,288.27 645.50,291.96 647.16,295.64 648.82,299.30 650.48,302.94 652.14,306.56 653.79,310.16 655.45,313.74 657.11,317.30 658.77,320.82 660.43,324.32 662.08,327.78 663.74,331.22 665.40,334.64 667.06,338.04 668.72,341.41 670.37,344.77 672.03,348.12 673.69,351.45 675.35,354.78 677.01,358.10 678.66,361.41 680.32,364.72 681.98,368.03 683.64,371.35 685.30,374.66 686.95,377.99 688.61,381.33 690.27,384.67 691.93,388.01 693.59,391.33 695.24,394.64 696.90,397.94 698.56,401.24 700.22,404.54 701.88,407.83 703.53,411.12 705.19,414.43 706.85,417.73 708.51,421.05 710.17,424.38 711.82,427.72 713.48,431.08 715.14,434.46 716.80,437.87 718.46,441.30 720.11,444.75 721.77,448.24 723.43,451.77 725.09,455.32 726.75,458.91 728.40,462.53 730.06,466.16 731.72,469.81 733.38,473.47 735.04,477.14 736.69,480.81 738.35,484.47 740.01,488.14 741.67,491.79 743.33,495.42 744.98,499.04 746.64,502.63 748.30,506.20 749.96,509.75 751.62,513.34 753.27,516.97 754.93,520.61 756.59,524.27 758.25,527.93 759.91,531.59 761.56,535.23 763.22,538.84 764.88,542.42 766.54,545.96 768.20,549.45 769.85,552.87 771.51,556.22 773.17,559.50 774.83,562.68 776.49,565.76 778.14,568.73 779.80,571.59 781.46,574.34 783.12,577.00 784.78,579.57 786.43,582.07 788.09,584.49 789.75,586.86"/>
<polyline fill="none" stroke="#1fa2a6" stroke-width="1.5" stroke-linejoin="round" points="126.55,580.90 128.21,577.80 129.87,574.66 131.52,571.49 133.18,568.29 134.84,565.06 136.50,561.80 138.16,558.51 139.81,555.19 141.47,551.85 143.13,548.47 144.79,545.07 146.45,541.65 148.10,538.20 149.76,534.73 151.42,531.23 153.08,527.70 154.74,524.16 156.39,520.59 158.05,517.00 159.71,513.39 161.37,509.76 163.03,506.11 164.68,502.39 166.34,498.59 168.00,494.73 169.66,490.81 171.32,486.85 172.97,482.85 174.63,478.84 176.29,474.80 177.95,470.77 179.61,466.74 181.26,462.73 182.92,458.75 184.58,454.81 186.24,450.92 187.90,447.09 189.55,443.32 191.21,439.59 192.87,435.88 194.53,432.20 196.19,428.54 197.84,424.90 199.50,421.27 201.16,417.67 202.82,414.08 204.48,410.50 206.13,406.93 207.79,403.37 209.45,399.82 211.11,396.27 212.77,392.72 214.42,389.17 216.08,385.62 217.74,382.07 219.40,378.52 221.06,374.97 222.71,371.43 224.37,367.90 226.03,364.37 227.69,360.85 229.35,357.33 231.00,353.82 232.66,350.32 234.32,346.82 235.98,343.32 237.64,339.84 239.29,336.36 240.95,332.88 242.61,329.42 244.27,325.96 245.93,322.50 247.58,319.06 249.24,315.63 250.90,312.21 252.56,308.80 254.22,305.41 255.87,302.03 257.53,298.65 259.19,295.27 260.85,291.90 262.51,288.53 264.16,285.16 265.82,281.79 267.48,278.42 269.14,275.04 270.80,271.65 272.45,268.25 274.11,264.84 275.77,261.42 277.43,257.98 279.09,254.53 280.74,251.05 282.40,247.57 284.06,244.07 285.72,240.55 287.38,237.04 289.03,233.52 290.69,229.99 292.35,226.47 294.01,222.95 295.67,219.44 297.32,215.94 298.98,212.45 300.64,208.98 302.30,205.52 303.96,202.08 305.61,198.67 307.27,195.28 308.93,191.90 310.59,188.52 312.25,185.15 313.90,181.79 315.56,178.44 317.22,175.10 318.88,171.77 320.54,168.45 322.19,165.14 323.85,161.84 325.51,158.56 327.17,155.29 328.83,152.03 330.48,148.79 332.14,145.56 333.80,142.34 335.46,139.15 337.12,135.97 338.77,132.79 340.43,129.58 342.09,126.35 343.75,123.14 345.41,119.95 347.06,116.80 348.72,113.72 350.38,110.73 352.04,107.84 353.70,105.08 355.35,102.45 357.01,99.92 358.67,97.47 360.33,95.09 361.99,92.77 363.64,90.51 365.30,88.28 366.96,86.09 368.62,83.92 370.28,81.76 371.93,79.61 373.59,77.45 375.25,75.28 376.91,73.08 378.57,70.85 380.22,68.61 381.88,66.37 383.54,64.15 385.20,61.95 386.86,59.78 388.51,57.66 390.17,55.61 391.83,53.62 393.49,51.68 395.15,49.78 396.80,47.93 398.46,46.12 400.12,44.35 401.78,42.63 403.44,40.94 405.09,39.31 406.75,37.72 408.41,36.19 410.07,34.70 411.73,33.25 413.38,31.84 415.04,30.48 416.70,29.18 418.36,27.92 420.02,26.69 421.67,25.51 423.33,24.38 424.99,23.33 426.65,22.30 428.31,21.28 429.96,20.29 431.62,19.36 433.28,18.50 434.94,17.76 436.60,17.15 438.25,16.59 439.91,16.04 441.57,15.50 443.23,14.98 444.89,14.48 446.54,14.01 448.20,13.58 449.86,13.20 451.52,12.88 453.18,12.61 454.83,12.41 456.49,12.28 458.15,12.24 459.81,12.28 461.47,12.41 463.12,12.61 464.78,12.88 466.44,13.20 468.10,13.58 469.76,14.01 471.41,14.48 473.07,14.98 474.73,15.50 476.39,16.04 478.05,16.59 479.70,17.15 481.36,17.76 483.02,18.50 484.68,19.36 486.34,20.29 487.99,21.28 489.65,22.30 491.31,23.33 492.97,24.38 494.63,25.51 496.28,26.69 497.94,27.92 499.60,29.18 501.26,30.48 502.92,31.84 504.57,33.25 506.23,34.70 507.89,36.19 509.55,37.72 511.21,39.31 512.86,40.94 514.52,42.63 516.18,44.35 517.84,46.12 519.50,47.93 521.15,49.78 522.81,51.68 524.47,53.62 526.13,55.61 527.79,57.66 529.44,59.78 531.10,61.95 532.76,64.15 534.42,66.37 536.08,68.61 537.73,70.85 539.39,73.08 541.05,75.28 542.71,77.45 544.37,79.61 546.02,81.76 547.68,83.92 549.34,86.09 551.00,88.28 552.66,90.51 554.31,92.77 555.97,95.09 557.63,97.47 559.29,99.92 560.95,102.45 562.60,105.08 564.26,107.84 565.92,110.73 567.58,113.72 569.24,116.80 570.89,119.95 572.55,123.14 574.21,126.35 575.87,129.58 577.53,132.79 579.18,135.97 580.84,139.15 582.50,142.34 584.16,145.56 585.82,148.79 587.47,152.03 589.13,155.29 590.79,158.56 592.45,161.84 594.11,165.14 595.76,168.45 597.42,171.77 599.08,175.10 600.74,178.44 602.40,181.79 604.05,185.15 605.71,188.52 607.37,191.90 609.03,195.28 610.69,198.67 612.34,202.08 614.00,205.52 615.66,208.98 617.32,212.45 618.98,215.94 620.63,219.44 622.29,222.95 623.95,226.47 625.61,229.99 627.27,233.52 628.92,237.04 630.58,240.55 632.24,244.07 633.90,247.57 635.56,251.05 637.21,254.53 638.87,257.98 640.53,261.42 642.19,264.84 643.85,268.25 645.50,271.65 647.16,275.04 648.82,278.42 650.48,281.79 652.14,285.16 653.79,288.53 655.45,291.90 657.11,295.27 658.77,298.65 660.43,302.03 662.08,305.41 663.74,308.80 665.40,312.21 667.06,315.63 668.72,319.06 670.37,322.50 672.03,325.96 673.69,329.42 675.35,332.88 677.01,336.36 678.66,339.84 680.32,343.32 681.98,346.82 683.64,350.32 685.30,353.82 686.95,357.33 688.61,360.85 690.27,364.37 691.93,367.90 693.59,371.43 695.24,374.97 696.90,378.52 698.56,382.07 700.22,385.62 701.88,389.17 703.53,392.72 705.19,396.27 706.85,399.82 708.51,403.37 710.17,406.93 711.82,410.50 713.48,414.08 715.14,417.67 716.80,421.27 718.46,424.90 720.11,428.54 721.77,432.20 723.43,435.88 725.09,439.59 726.75,443.32 728.40,447.09 730.06,450.92 731.72,454.82 733.38,458.76 735.04,462.74 736.69,466.76 738.35,470.79 740.01,474.82 741.67,478.86 743.33,482.88 744.98,486.87 746.64,490.83 748.30,494.75 749.96,498.61 751.62,502.40 753.27,506.11 754.93,509.75 756.59,513.37 758.25,516.97 759.91,520.55 761.56,524.10 763.22,527.63 764.88,531.14 766.54,534.62 768.20,538.08 769.85,541.51 771.51,544.92 773.17,548.30 774.83,551.65 776.49,554.97 778.14,558.26 779.80,561.53 781.46,564.76 783.12,567.97 784.78,571.14 786.43,574.28 788.09,577.39 789.75,580.47"/>
<polyline fill="none" stroke="#1ea290" stroke-width="1.5" stroke-linejoin="round" points="126.55,578.17 128.21,574.82 129.87,571.43 131.52,568.00 133.18,564.54 134.84,561.04 136.50,557.51 138.16,553.95 139.81,550.35 141.47,546.72 143.13,543.06 144.79,539.36 146.45,535.64 148.10,531.89 149.76,528.11 151.42,524.30 153.08,520.47 154.74,516.61 156.39,512.72 158.05,508.81 159.71,504.87 161.37,500.85 163.03,496.75 164.68,492.59 166.34,488.37 168.00,484.12 169.66,479.83 171.32,475.52 172.97,471.19 174.63,466.87 176.29,462.55 177.95,458.26 179.61,453.99 181.26,449.76 182.92,445.59 184.58,441.44 186.24,437.27 187.90,433.11 189.55,428.93 191.21,424.77 192.87,420.61 194.53,416.47 196.19,412.34 197.84,408.25 199.50,404.18 201.16,400.15 202.82,396.16 204.48,392.22 206.13,388.34 207.79,384.51 209.45,380.74 211.11,377.02 212.77,373.35 214.42,369.71 216.08,366.12 217.74,362.55 219.40,359.02 221.06,355.52 222.71,352.04 224.37,348.58 226.03,345.14 227.69,341.71 229.35,338.29 231.00,334.88 232.66,331.47 234.32,328.06 235.98,324.65 237.64,321.23 239.29,317.81 240.95,314.40 242.61,311.00 244.27,307.61 245.93,304.22 247.58,300.84 249.24,297.48 250.90,294.12 252.56,290.77 254.22,287.43 255.87,284.10 257.53,280.78 259.19,277.47 260.85,274.17 262.51,270.88 264.16,267.60 265.82,264.34 267.48,261.08 269.14,257.83 270.80,254.61 272.45,251.41 274.11,248.22 275.77,245.06 277.43,241.90 279.09,238.76 280.74,235.63 282.40,232.50 284.06,229.39 285.72,226.27 287.38,223.15 289.03,220.03 290.69,216.91 292.35,213.78 294.01,210.64 295.67,207.49 297.32,204.33 298.98,201.15 300.64,197.95 302.30,194.73 303.96,191.47 305.61,188.19 307.27,184.88 308.93,181.55 310.59,178.20 312.25,174.85 313.90,171.49 315.56,168.14 317.22,164.78 318.88,161.44 320.54,158.12 322.19,154.81 323.85,151.53 325.51,148.29 327.17,145.07 328.83,141.90 330.48,138.77 332.14,135.70 333.80,132.66 335.46,129.65 337.12,126.67 338.77,123.71 340.43,120.78 342.09,117.89 343.75,115.05 345.41,112.24 347.06,109.49 348.72,106.79 350.38,104.14 352.04,101.54 353.70,98.99 355.35,96.46 357.01,93.98 358.67,91.52 360.33,89.10 361.99,86.72 363.64,84.37 365.30,82.04 366.96,79.75 368.62,77.49 370.28,75.25 371.93,73.04 373.59,70.86 375.25,68.71 376.91,66.58 378.57,64.49 380.22,62.44 381.88,60.42 383.54,58.44 385.20,56.51 386.86,54.61 388.51,52.76 390.17,50.95 391.83,49.18 393.49,47.45 395.15,45.76 396.80,44.10 398.46,42.48 400.12,40.89 401.78,39.35 403.44,37.86 405.09,36.41 406.75,35.00 408.41,33.62 410.07,32.28 411.73,30.99 413.38,29.74 415.04,28.54 416.70,27.36 418.36,26.22 420.02,25.12 421.67,24.08 423.33,23.11 424.99,22.14 426.65,21.18 428.31,20.25 429.96,19.37 431.62,18.56 433.28,17.85 434.94,17.25 436.60,16.73 438.25,16.21 439.91,15.69 441.57,15.19 443.23,14.71 444.89,14.26 446.54,13.83 448.20,13.45 449.86,13.10 451.52,12.81 453.18,12.57 454.83,12.39 456.49,12.28 458.15,12.24 459.81,12.28 461.47,12.39 463.12,12.57 464.78,12.81 466.44,13.10 468.10,13.45 469.76,13.83 471.41,14.26 473.07,14.71 474.73,15.19 476.39,15.69 478.05,16.21 479.70,16.73 481.36,17.25 483.02,17.85 484.68,18.56 486.34,19.37 487.99,20.25 489.65,21.18 491.31,22.14 492.97,23.11 494.63,24.08 496.28,25.12 497.94,26.22 499.60,27.36 501.26,28.54 502.92,29.74 504.57,30.99 506.23,32.28 507.89,33.62 509.55,35.00 511.21,36.41 512.86,37.86 514.52,39.35 516.18,40.89 517.84,42.48 519.50,44.10 521.15,45.76 522.81,47.45 524.47,49.18 526.13,50.95 527.79,52.76 529.44,54.61 531.10,56.51 532.76,58.44 534.42,60.42 536.08,62.44 537.73,64.49 539.39,66.58 541.05,68.71 542.71,70.86 544.37,73.04 546.02,75.25 547.68,77.49 549.34,79.75 551.00,82.04 552.66,84.37 554.31,86.72 555.97,89.10 557.63,91.52 559.29,93.98 560.95,96.46 562.60,98.99 564.26,101.54 565.92,104.14 567.58,106.79 569.24,109.49 570.89,112.24 572.55,115.05 574.21,117.89 575.87,120.78 577.53,123.71 579.18,126.67 580.84,129.65 582.50,132.66 584.16,135.70 585.82,138.77 587.47,141.90 589.13,145.07 590.79,148.29 592.45,151.53 594.11,154.81 595.76,158.12 597.42,161.44 599.08,164.78 600.74,168.14 602.40,171.49 604.05,174.85 605.71,178.20 607.37,181.55 609.03,184.88 610.69,188.19 612.34,191.47 614.00,194.73 615.66,197.95 617.32,201.15 618.98,204.33 620.63,207.49 622.29,210.64 623.95,213.78 625.61,216.91 627.27,220.03 628.92,223.15 630.58,226.27 632.24,229.39 633.90,232.50 635.56,235.63 637.21,238.76 638.87,241.90 640.53,245.06 642.19,248.22 643.85,251.41 645.50,254.61 647.16,257.83 648.82,261.08 650.48,264.34 652.14,267.60 653.79,270.88 655.45,274.17 657.11,277.47 658.77,280.78 660.43,284.10 662.08,287.43 663.74,290.77 665.40,294.12 667.06,297.48 668.72,300.84 670.37,304.22 672.03,307.61 673.69,311.00 675.35,314.40 677.01,317.81 678.66,321.23 680.32,324.65 681.98,328.06 683.64,331.47 685.30,334.88 686.95,338.29 688.61,341.71 690.27,345.14 691.93,348.58 693.59,352.04 695.24,355.52 696.90,359.02 698.56,362.55 700.22,366.12 701.88,369.71 703.53,373.35 705.19,377.02 706.85,380.74 708.51,384.51 710.17,388.34 711.82,392.22 713.48,396.16 715.14,400.15 716.80,404.18 718.46,408.25 720.11,412.34 721.77,416.47 723.43,420.61 725.09,424.77 726.75,428.93 728.40,433.11 730.06,437.27 731.72,441.44 733.38,445.59 735.04,449.76 736.69,453.99 738.35,458.25 740.01,462.54 741.67,466.85 743.33,471.17 744.98,475.49 746.64,479.79 748.30,484.08 749.96,488.34 751.62,492.55 753.27,496.72 754.93,500.82 756.59,504.86 758.25,508.82 759.91,512.75 761.56,516.66 763.22,520.54 764.88,524.39 766.54,528.22 768.20,532.03 769.85,535.81 771.51,539.56 773.17,543.28 774.83,546.97 776.49,550.63 778.14,554.27 779.80,557.87 781.46,561.44 783.12,564.98 784.78,568.48 786.43,571.95 788.09,575.39 789.75,578.79"/>
<polyline fill="none" stroke="#1da076" stroke-width="1.5" stroke-linejoin="round" points="126.55,574.02 128.21,570.67 129.87,567.27 131.52,563.81 133.18,560.28 134.84,556.71 136.50,553.08 138.16,549.39 139.81,545.65 141.47,541.87 143.13,538.03 144.79,534.15 146.45,530.22 148.10,526.25 149.76,522.24 151.42,518.18 153.08,514.09 154.74,509.96 156.39,505.78 158.05,501.49 159.71,497.08 161.37,492.56 163.03,487.95 164.68,483.27 166.34,478.55 168.00,473.80 169.66,469.03 171.32,464.27 172.97,459.54 174.63,454.85 176.29,450.23 177.95,445.69 179.61,441.20 181.26,436.70 182.92,432.20 184.58,427.71 186.24,423.22 187.90,418.75 189.55,414.31 191.21,409.91 192.87,405.54 194.53,401.22 196.19,396.95 197.84,392.74 199.50,388.61 201.16,384.55 202.82,380.56 204.48,376.64 206.13,372.77 207.79,368.95 209.45,365.18 211.11,361.46 212.77,357.77 214.42,354.11 216.08,350.49 217.74,346.89 219.40,343.31 221.06,339.75 222.71,336.21 224.37,332.67 226.03,329.14 227.69,325.60 229.35,322.07 231.00,318.53 232.66,315.00 234.32,311.49 235.98,307.98 237.64,304.48 239.29,301.00 240.95,297.53 242.61,294.08 244.27,290.64 245.93,287.21 247.58,283.80 249.24,280.40 250.90,277.02 252.56,273.66 254.22,270.32 255.87,266.99 257.53,263.68 259.19,260.38 260.85,257.11 262.51,253.86 264.16,250.62 265.82,247.40 267.48,244.20 269.14,241.01 270.80,237.84 272.45,234.69 274.11,231.54 275.77,228.41 277.43,225.29 279.09,222.18 280.74,219.08 282.40,215.99 284.06,212.91 285.72,209.84 287.38,206.77 289.03,203.71 290.69,200.66 292.35,197.61 294.01,194.56 295.67,191.51 297.32,188.46 298.98,185.41 300.64,182.36 302.30,179.31 303.96,176.27 305.61,173.24 307.27,170.22 308.93,167.21 310.59,164.21 312.25,161.23 313.90,158.26 315.56,155.32 317.22,152.40 318.88,149.50 320.54,146.62 322.19,143.78 323.85,140.96 325.51,138.17 327.17,135.42 328.83,132.71 330.48,130.03 332.14,127.39 333.80,124.79 335.46,122.21 337.12,119.65 338.77,117.12 340.43,114.60 342.09,112.09 343.75,109.59 345.41,107.10 347.06,104.61 348.72,102.11 350.38,99.60 352.04,97.08 353.70,94.56 355.35,92.05 357.01,89.55 358.67,87.07 360.33,84.62 361.99,82.21 363.64,79.84 365.30,77.52 366.96,75.26 368.62,73.06 370.28,70.92 371.93,68.82 373.59,66.77 375.25,64.75 376.91,62.78 378.57,60.84 380.22,58.95 381.88,57.08 383.54,55.25 385.20,53.46 386.86,51.70 388.51,49.98 390.17,48.29 391.83,46.64 393.49,45.03 395.15,43.44 396.80,41.89 398.46,40.38 400.12,38.91 401.78,37.48 403.44,36.10 405.09,34.75 406.75,33.43 408.41,32.14 410.07,30.90 411.73,29.70 413.38,28.54 415.04,27.41 416.70,26.31 418.36,25.25 420.02,24.24 421.67,23.29 423.33,22.36 424.99,21.43 426.65,20.52 428.31,19.66 429.96,18.85 431.62,18.13 433.28,17.50 434.94,16.98 436.60,16.48 438.25,15.98 439.91,15.49 441.57,15.01 443.23,14.56 444.89,14.13 446.54,13.73 448.20,13.37 449.86,13.04 451.52,12.77 453.18,12.55 454.83,12.38 456.49,12.28 458.15,12.24 459.81,12.28 461.47,12.38 463.12,12.55 464.78,12.77 466.44,13.04 468.10,13.37 469.76,13.73 471.41,14.13 473.07,14.56 474.73,15.01 476.39,15.49 478.05,15.98 479.70,16.48 481.36,16.98 483.02,17.50 484.68,18.13 486.34,18.85 487.99,19.66 489.65,20.52 491.31,21.43 492.97,22.36 494.63,23.29 496.28,24.24 497.94,25.25 499.60,26.31 501.26,27.41 502.92,28.54 504.57,29.70 506.23,30.90 507.89,32.14 509.55,33.43 511.21,34.75 512.86,36.10 514.52,37.48 516.18,38.91 517.84,40.38 519.50,41.89 521.15,43.44 522.81,45.03 524.47,46.64 526.13,48.29 527.79,49.98 529.44,51.70 531.10,53.46 532.76,55.25 534.42,57.08 536.08,58.95 537.73,60.84 539.39,62.78 541.05,64.75 542.71,66.77 544.37,68.82 546.02,70.92 547.68,73.06 549.34,75.26 551.00,77.52 552.66,79.84 554.31,82.21 555.97,84.62 557.63,87.07 559.29,89.55 560.95,92.05 562.60,94.56 564.26,97.08 565.92,99.60 567.58,102.11 569.24,104.61 570.89,107.10 572.55,109.59 574.21,112.09 575.87,114.60 577.53,117.12 579.18,119.65 580.84,122.21 582.50,124.79 584.16,127.39 585.82,130.03 587.47,132.71 589.13,135.42 590.79,138.17 592.45,140.96 594.11,143.78 595.76,146.62 597.42,149.50 599.08,152.40 600.74,155.32 602.40,158.26 604.05,161.23 605.71,164.21 607.37,167.21 609.03,170.22 610.69,173.24 612.34,176.27 614.00,179.31 615.66,182.36 617.32,185.41 618.98,188.46 620.63,191.51 622.29,194.56 623.95,197.61 625.61,200.66 627.27,203.71 628.92,206.77 630.58,209.84 632.24,212.91 633.90,215.99 635.56,219.08 637.21,222.18 638.87,225.29 640.53,228.41 642.19,231.54 643.85,234.69 645.50,237.84 647.16,241.01 648.82,244.20 650.48,247.40 652.14,250.62 653.79,253.86 655.45,257.11 657.11,260.38 658.77,263.68 660.43,266.99 662.08,270.32 663.74,273.66 665.40,277.02 667.06,280.40 668.72,283.80 670.37,287.21 672.03,290.64 673.69,294.08 675.35,297.53 677.01,301.00 678.66,304.48 680.32,307.98 681.98,311.49 683.64,315.00 685.30,318.53 686.95,322.07 688.61,325.60 690.27,329.14 691.93,332.67 693.59,336.21 695.24,339.75 696.90,343.31 698.56,346.89 700.22,350.49 701.88,354.11 703.53,357.77 705.19,361.46 706.85,365.18 708.51,368.95 710.17,372.77 711.82,376.64 713.48,380.56 715.14,384.55 716.80,388.61 718.46,392.74 720.11,396.95 721.77,401.22 723.43,405.54 725.09,409.91 726.75,414.31 728.40,418.75 730.06,423.22 731.72,427.71 733.38,432.20 735.04,436.70 736.69,441.20 738.35,445.69 740.01,450.23 741.67,454.87 743.33,459.58 744.98,464.33 746.64,469.11 748.30,473.89 749.96,478.66 751.62,483.40 753.27,488.08 754.93,492.68 756.59,497.18 758.25,501.56 759.91,505.80 761.56,509.91 763.22,513.98 764.88,518.00 766.54,521.98 768.20,525.91 769.85,529.80 771.51,533.64 773.17,537.42 774.83,541.16 776.49,544.84 778.14,548.46 779.80,552.03 781.46,555.53 783.12,558.98 784.78,562.36 786.43,565.67 788.09,568.92 789.75,572.09"/>
<polyline fill="none" stroke="#1c9e5c" stroke-width="1.5" stroke-linejoin="round" points="126.55,566.02 128.21,562.98 129.87,559.84 131.52,556.61 133.18,553.28 134.84,549.87 136.50,546.37 138.16,542.79 139.81,539.12 141.47,535.39 143.13,531.57 144.79,527.69 146.45,523.74 148.10,519.73 149.76,515.66 151.42,511.53 153.08,507.34 154.74,503.03 156.39,498.50 158.05,493.80 159.71,488.95 161.37,483.99 163.03,478.95 164.68,473.85 166.34,468.74 168.00,463.63 169.66,458.56 171.32,453.57 172.97,448.67 174.63,443.91 176.29,439.18 177.95,434.46 179.61,429.74 181.26,425.03 182.92,420.35 184.58,415.70 186.24,411.07 187.90,406.49 189.55,401.96 191.21,397.48 192.87,393.06 194.53,388.71 196.19,384.43 197.84,380.22 199.50,376.07 201.16,371.96 202.82,367.89 204.48,363.87 206.13,359.89 207.79,355.95 209.45,352.05 211.11,348.18 212.77,344.35 214.42,340.55 216.08,336.77 217.74,333.03 219.40,329.31 221.06,325.62 222.71,321.95 224.37,318.31 226.03,314.69 227.69,311.11 229.35,307.56 231.00,304.03 232.66,300.53 234.32,297.06 235.98,293.61 237.64,290.18 239.29,286.77 240.95,283.39 242.61,280.01 244.27,276.66 245.93,273.31 247.58,269.99 249.24,266.67 250.90,263.36 252.56,260.06 254.22,256.76 255.87,253.48 257.53,250.21 259.19,246.94 260.85,243.69 262.51,240.45 264.16,237.22 265.82,234.01 267.48,230.81 269.14,227.62 270.80,224.45 272.45,221.30 274.11,218.17 275.77,215.05 277.43,211.95 279.09,208.87 280.74,205.81 282.40,202.77 284.06,199.75 285.72,196.76 287.38,193.78 289.03,190.83 290.69,187.90 292.35,184.98 294.01,182.08 295.67,179.20 297.32,176.34 298.98,173.49 300.64,170.66 302.30,167.83 303.96,165.02 305.61,162.23 307.27,159.44 308.93,156.67 310.59,153.90 312.25,151.14 313.90,148.39 315.56,145.65 317.22,142.91 318.88,140.18 320.54,137.45 322.19,134.72 323.85,132.00 325.51,129.28 327.17,126.56 328.83,123.86 330.48,121.17 332.14,118.50 333.80,115.85 335.46,113.22 337.12,110.61 338.77,108.04 340.43,105.50 342.09,102.99 343.75,100.49 345.41,97.99 347.06,95.50 348.72,93.03 350.38,90.58 352.04,88.16 353.70,85.77 355.35,83.41 357.01,81.10 358.67,78.84 360.33,76.64 361.99,74.49 363.64,72.41 365.30,70.38 366.96,68.40 368.62,66.47 370.28,64.58 371.93,62.72 373.59,60.91 375.25,59.13 376.91,57.38 378.57,55.65 380.22,53.95 381.88,52.29 383.54,50.65 385.20,49.05 386.86,47.48 388.51,45.94 390.17,44.43 391.83,42.95 393.49,41.50 395.15,40.08 396.80,38.71 398.46,37.37 400.12,36.06 401.78,34.79 403.44,33.55 405.09,32.33 406.75,31.15 408.41,30.01 410.07,28.91 411.73,27.84 413.38,26.78 415.04,25.77 416.70,24.79 418.36,23.86 420.02,22.98 421.67,22.10 423.33,21.23 424.99,20.38 426.65,19.57 428.31,18.82 429.96,18.14 431.62,17.55 433.28,17.05 434.94,16.57 436.60,16.10 438.25,15.64 439.91,15.18 441.57,14.75 443.23,14.33 444.89,13.94 446.54,13.58 448.20,13.25 449.86,12.96 451.52,12.71 453.18,12.51 454.83,12.36 456.49,12.27 458.15,12.24 459.81,12.27 461.47,12.36 463.12,12.51 464.78,12.71 466.44,12.96 468.10,13.25 469.76,13.58 471.41,13.94 473.07,14.33 474.73,14.75 476.39,15.18 478.05,15.64 479.70,16.10 481.36,16.57 483.02,17.05 484.68,17.55 486.34,18.14 487.99,18.82 489.65,19.57 491.31,20.38 492.97,21.23 494.63,22.10 496.28,22.98 497.94,23.86 499.60,24.79 501.26,25.77 502.92,26.78 504.57,27.84 506.23,28.91 507.89,30.01 509.55,31.15 511.21,32.33 512.86,33.55 514.52,34.79 516.18,36.06 517.84,37.37 519.50,38.71 521.15,40.08 522.81,41.50 524.47,42.95 526.13,44.43 527.79,45.94 529.44,47.48 531.10,49.05 532.76,50.65 534.42,52.29 536.08,53.95 537.73,55.65 539.39,57.38 541.05,59.13 542.71,60.91 544.37,62.72 546.02,64.58 547.68,66.47 549.34,68.40 551.00,70.38 552.66,72.41 554.31,74.49 555.97,76.64 557.63,78.84 559.29,81.10 560.95,83.41 562.60,85.77 564.26,88.16 565.92,90.58 567.58,93.03 569.24,95.50 570.89,97.99 572.55,100.49 574.21,102.99 575.87,105.50 577.53,108.04 579.18,110.61 580.84,113.22 582.50,115.85 584.16,118.50 585.82,121.17 587.47,123.86 589.13,126.56 590.79,129.28 592.45,132.00 594.11,134.72 595.76,137.45 597.42,140.18 599.08,142.91 600.74,145.65 602.40,148.39 604.05,151.14 605.71,153.90 607.37,156.67 609.03,159.44 610.69,162.23 612.34,165.02 614.00,167.83 615.66,170.66 617.32,173.49 618.98,176.34 620.63,179.20 622.29,182.08 623.95,184.98 625.61,187.90 627.27,190.83 628.92,193.78 630.58,196.76 632.24,199.75 633.90,202.77 635.56,205.81 637.21,208.87 638.87,211.95 640.53,215.05 642.19,218.17 643.85,221.30 645.50,224.45 647.16,227.62 648.82,230.81 650.48,234.01 652.14,237.22 653.79,240.45 655.45,243.69 657.11,246.94 658.77,250.21 660.43,253.48 662.08,256.76 663.74,260.06 665.40,263.36 667.06,266.67 668.72,269.99 670.37,273.31 672.03,276.66 673.69,280.01 675.35,283.39 677.01,286.77 678.66,290.18 680.32,293.61 681.98,297.06 683.64,300.53 685.30,304.03 686.95,307.56 688.61,311.11 690.27,314.69 691.93,318.31 693.59,321.95 695.24,325.62 696.90,329.31 698.56,333.03 700.22,336.77 701.88,340.55 703.53,344.35 705.19,348.18 706.85,352.05 708.51,355.95 710.17,359.89 711.82,363.87 713.48,367.89 715.14,371.96 716.80,376.07 718.46,380.22 720.11,384.43 721.77,388.71 723.43,393.06 725.09,397.48 726.75,401.96 728.40,406.49 730.06,411.07 731.72,415.70 733.38,420.35 735.04,425.03 736.69,429.74 738.35,434.46 740.01,439.18 741.67,443.91 743.33,448.67 744.98,453.56 746.64,458.54 748.30,463.59 749.96,468.68 751.62,473.78 753.27,478.86 754.93,483.90 756.59,488.85 758.25,493.71 759.91,498.43 761.56,502.98 763.22,507.35 764.88,511.58 766.54,515.77 768.20,519.91 769.85,523.98 771.51,527.99 773.17,531.95 774.83,535.83 776.49,539.65 778.14,543.39 779.80,547.07 781.46,550.66 783.12,554.17 784.78,557.61 786.43,560.95 788.09,564.21 789.75,567.38"/>
<polyline fill="none" stroke="#1c9e44" stroke-width="1.5" stroke-linejoin="round" points="126.55,564.53 128.21,561.06 129.87,557.50 131.52,553.87 133.18,550.15 134.84,546.36 136.50,542.50 138.16,538.57 139.81,534.57 141.47,530.50 143.13,526.37 144.79,522.18 146.45,517.93 148.10,513.62 149.76,509.25 151.42,504.82 153.08,500.23 154.74,495.49 156.39,490.62 158.05,485.65 159.71,480.61 161.37,475.51 163.03,470.38 164.68,465.24 166.34,460.12 168.00,455.04 169.66,450.02 171.32,445.09 172.97,440.20 174.63,435.29 176.29,430.36 177.95,425.43 179.61,420.52 181.26,415.62 182.92,410.75 184.58,405.92 186.24,401.13 187.90,396.40 189.55,391.74 191.21,387.16 192.87,382.66 194.53,378.23 196.19,373.84 197.84,369.48 199.50,365.17 201.16,360.91 202.82,356.68 204.48,352.50 206.13,348.36 207.79,344.26 209.45,340.20 211.11,336.18 212.77,332.21 214.42,328.28 216.08,324.39 217.74,320.55 219.40,316.74 221.06,312.96 222.71,309.23 224.37,305.52 226.03,301.85 227.69,298.21 229.35,294.60 231.00,291.03 232.66,287.48 234.32,283.97 235.98,280.49 237.64,277.04 239.29,273.62 240.95,270.22 242.61,266.86 244.27,263.53 245.93,260.22 247.58,256.94 249.24,253.69 250.90,250.48 252.56,247.30 254.22,244.14 255.87,241.01 257.53,237.91 259.19,234.82 260.85,231.77 262.51,228.73 264.16,225.71 265.82,222.70 267.48,219.72 269.14,216.74 270.80,213.78 272.45,210.83 274.11,207.89 275.77,204.96 277.43,202.03 279.09,199.11 280.74,196.19 282.40,193.28 284.06,190.38 285.72,187.49 287.38,184.61 289.03,181.74 290.69,178.88 292.35,176.03 294.01,173.19 295.67,170.36 297.32,167.55 298.98,164.74 300.64,161.95 302.30,159.17 303.96,156.40 305.61,153.64 307.27,150.90 308.93,148.16 310.59,145.44 312.25,142.73 313.90,140.04 315.56,137.36 317.22,134.69 318.88,132.02 320.54,129.37 322.19,126.72 323.85,124.09 325.51,121.48 327.17,118.88 328.83,116.31 330.48,113.77 332.14,111.26 333.80,108.78 335.46,106.34 337.12,103.94 338.77,101.56 340.43,99.20 342.09,96.86 343.75,94.54 345.41,92.24 347.06,89.97 348.72,87.72 350.38,85.50 352.04,83.31 353.70,81.16 355.35,79.04 357.01,76.96 358.67,74.92 360.33,72.93 361.99,70.97 363.64,69.05 365.30,67.17 366.96,65.32 368.62,63.50 370.28,61.72 371.93,59.96 373.59,58.24 375.25,56.55 376.91,54.88 378.57,53.25 380.22,51.64 381.88,50.07 383.54,48.53 385.20,47.01 386.86,45.53 388.51,44.07 390.17,42.64 391.83,41.24 393.49,39.87 395.15,38.54 396.80,37.24 398.46,35.98 400.12,34.75 401.78,33.54 403.44,32.36 405.09,31.21 406.75,30.10 408.41,29.03 410.07,27.99 411.73,26.96 413.38,25.97 415.04,25.01 416.70,24.10 418.36,23.23 420.02,22.38 421.67,21.53 423.33,20.70 424.99,19.90 426.65,19.14 428.31,18.45 429.96,17.83 431.62,17.30 433.28,16.84 434.94,16.38 436.60,15.92 438.25,15.47 439.91,15.04 441.57,14.62 443.23,14.22 444.89,13.85 446.54,13.51 448.20,13.20 449.86,12.92 451.52,12.69 453.18,12.50 454.83,12.36 456.49,12.27 458.15,12.24 459.81,12.27 461.47,12.36 463.12,12.50 464.78,12.69 466.44,12.92 468.10,13.20 469.76,13.51 471.41,13.85 473.07,14.22 474.73,14.62 476.39,15.04 478.05,15.47 479.70,15.92 481.36,16.38 483.02,16.84 484.68,17.30 486.34,17.83 487.99,18.45 489.65,19.14 491.31,19.90 492.97,20.70 494.63,21.53 496.28,22.38 497.94,23.23 499.60,24.10 501.26,25.01 502.92,25.97 504.57,26.96 506.23,27.99 507.89,29.03 509.55,30.10 511.21,31.21 512.86,32.36 514.52,33.54 516.18,34.75 517.84,35.98 519.50,37.24 521.15,38.54 522.81,39.87 524.47,41.24 526.13,42.64 527.79,44.07 529.44,45.53 531.10,47.01 532.76,48.53 534.42,50.07 536.08,51.64 537.73,53.25 539.39,54.88 541.05,56.55 542.71,58.24 544.37,59.96 546.02,61.72 547.68,63.50 549.34,65.32 551.00,67.17 552.66,69.05 554.31,70.97 555.97,72.93 557.63,74.92 559.29,76.96 560.95,79.04 562.60,81.16 564.26,83.31 565.92,85.50 567.58,87.72 569.24,89.97 570.89,92.24 572.55,94.54 574.21,96.86 575.87,99.20 577.53,101.56 579.18,103.94 580.84,106.34 582.50,108.78 584.16,111.26 585.82,113.77 587.47,116.31 589.13,118.88 590.79,121.48 592.45,124.09 594.11,126.72 595.76,129.37 597.42,132.02 599.08,134.69 600.74,137.36 602.40,140.04 604.05,142.73 605.71,145.44 607.37,148.16 609.03,150.90 610.69,153.64 612.34,156.40 614.00,159.17 615.66,161.95 617.32,164.74 618.98,167.55 620.63,170.36 622.29,173.19 623.95,176.03 625.61,178.88 627.27,181.74 628.92,184.61 630.58,187.49 632.24,190.38 633.90,193.28 635.56,196.19 637.21,199.11 638.87,202.03 640.53,204.96 642.19,207.89 643.85,210.83 645.50,213.78 647.16,216.74 648.82,219.72 650.48,222.70 652.14,225.71 653.79,228.73 655.45,231.77 657.11,234.82 658.77,237.91 660.43,241.01 662.08,244.14 663.74,247.30 665.40,250.48 667.06,253.69 668.72,256.94 670.37,260.22 672.03,263.53 673.69,266.86 675.35,270.22 677.01,273.62 678.66,277.04 680.32,280.49 681.98,283.97 683.64,287.48 685.30,291.03 686.95,294.60 688.61,298.21 690.27,301.85 691.93,305.52 693.59,309.23 695.24,312.96 696.90,316.74 698.56,320.55 700.22,324.39 701.88,328.28 703.53,332.21 705.19,336.18 706.85,340.20 708.51,344.26 710.17,348.36 711.82,352.50 713.48,356.68 715.14,360.91 716.80,365.17 718.46,369.48 720.11,373.84 721.77,378.23 723.43,382.66 725.09,387.16 726.75,391.74 728.40,396.40 730.06,401.13 731.72,405.92 733.38,410.75 735.04,415.62 736.69,420.52 738.35,425.43 740.01,430.36 741.67,435.29 743.33,440.20 744.98,445.09 746.64,450.02 748.30,455.03 749.96,460.11 751.62,465.22 753.27,470.35 754.93,475.48 756.59,480.57 758.25,485.61 759.91,490.58 761.56,495.45 763.22,500.20 764.88,504.81 766.54,509.26 768.20,513.65 769.85,517.98 771.51,522.26 773.17,526.48 774.83,530.64 776.49,534.74 778.14,538.77 779.80,542.74 781.46,546.63 783.12,550.46 784.78,554.22 786.43,557.90 788.09,561.50 789.75,565.02"/>
<polyline fill="none" stroke="#1c9c24" stroke-width="1.5" stroke-linejoin="round" points="126.55,561.80 128.21,557.89 129.87,553.91 131.52,549.87 133.18,545.77 134.84,541.60 136.50,537.37 138.16,533.08 139.81,528.73 141.47,524.33 143.13,519.87 144.79,515.36 146.45,510.79 148.10,506.17 149.76,501.44 151.42,496.60 153.08,491.66 154.74,486.64 156.39,481.56 158.05,476.42 159.71,471.25 161.37,466.06 163.03,460.87 164.68,455.69 166.34,450.54 168.00,445.45 169.66,440.35 171.32,435.21 172.97,430.03 174.63,424.84 176.29,419.63 177.95,414.44 179.61,409.28 181.26,404.16 182.92,399.10 184.58,394.11 186.24,389.21 187.90,384.41 189.55,379.71 191.21,375.06 192.87,370.45 194.53,365.89 196.19,361.37 197.84,356.90 199.50,352.48 201.16,348.11 202.82,343.79 204.48,339.52 206.13,335.31 207.79,331.15 209.45,327.05 211.11,323.01 212.77,319.03 214.42,315.09 216.08,311.20 217.74,307.36 219.40,303.56 221.06,299.80 222.71,296.08 224.37,292.40 226.03,288.76 227.69,285.15 229.35,281.57 231.00,278.03 232.66,274.52 234.32,271.03 235.98,267.57 237.64,264.14 239.29,260.73 240.95,257.34 242.61,253.99 244.27,250.66 245.93,247.37 247.58,244.11 249.24,240.87 250.90,237.65 252.56,234.46 254.22,231.30 255.87,228.15 257.53,225.03 259.19,221.92 260.85,218.82 262.51,215.75 264.16,212.68 265.82,209.63 267.48,206.59 269.14,203.55 270.80,200.53 272.45,197.51 274.11,194.49 275.77,191.47 277.43,188.44 279.09,185.42 280.74,182.40 282.40,179.39 284.06,176.38 285.72,173.39 287.38,170.41 289.03,167.45 290.69,164.51 292.35,161.58 294.01,158.69 295.67,155.81 297.32,152.97 298.98,150.15 300.64,147.38 302.30,144.63 303.96,141.93 305.61,139.26 307.27,136.64 308.93,134.07 310.59,131.54 312.25,129.05 313.90,126.60 315.56,124.19 317.22,121.81 318.88,119.46 320.54,117.14 322.19,114.84 323.85,112.57 325.51,110.32 327.17,108.08 328.83,105.86 330.48,103.65 332.14,101.45 333.80,99.26 335.46,97.07 337.12,94.91 338.77,92.75 340.43,90.62 342.09,88.50 343.75,86.41 345.41,84.34 347.06,82.30 348.72,80.29 350.38,78.30 352.04,76.36 353.70,74.44 355.35,72.57 357.01,70.72 358.67,68.91 360.33,67.13 361.99,65.37 363.64,63.64 365.30,61.95 366.96,60.28 368.62,58.63 370.28,57.02 371.93,55.43 373.59,53.87 375.25,52.33 376.91,50.83 378.57,49.35 380.22,47.90 381.88,46.47 383.54,45.07 385.20,43.69 386.86,42.34 388.51,41.02 390.17,39.73 391.83,38.47 393.49,37.24 395.15,36.04 396.80,34.87 398.46,33.72 400.12,32.59 401.78,31.50 403.44,30.44 405.09,29.41 406.75,28.41 408.41,27.43 410.07,26.47 411.73,25.54 413.38,24.65 415.04,23.80 416.70,22.99 418.36,22.18 420.02,21.38 421.67,20.59 423.33,19.84 424.99,19.12 426.65,18.46 428.31,17.87 429.96,17.36 431.62,16.92 433.28,16.48 434.94,16.05 436.60,15.62 438.25,15.20 439.91,14.80 441.57,14.41 443.23,14.05 444.89,13.71 446.54,13.39 448.20,13.11 449.86,12.86 451.52,12.64 453.18,12.47 454.83,12.35 456.49,12.27 458.15,12.24 459.81,12.27 461.47,12.35 463.12,12.47 464.78,12.64 466.44,12.86 468.10,13.11 469.76,13.39 471.41,13.71 473.07,14.05 474.73,14.41 476.39,14.80 478.05,15.20 479.70,15.62 481.36,16.05 483.02,16.48 484.68,16.92 486.34,17.36 487.99,17.87 489.65,18.46 491.31,19.12 492.97,19.84 494.63,20.59 496.28,21.38 497.94,22.18 499.60,22.99 501.26,23.80 502.92,24.65 504.57,25.54 506.23,26.47 507.89,27.43 509.55,28.41 511.21,29.41 512.86,30.44 514.52,31.50 516.18,32.59 517.84,33.72 519.50,34.87 521.15,36.04 522.81,37.24 524.47,38.47 526.13,39.73 527.79,41.02 529.44,42.34 531.10,43.69 532.76,45.07 534.42,46.47 536.08,47.90 537.73,49.35 539.39,50.83 541.05,52.33 542.71,53.87 544.37,55.43 546.02,57.02 547.68,58.63 549.34,60.28 551.00,61.95 552.66,63.64 554.31,65.37 555.97,67.13 557.63,68.91 559.29,70.72 560.95,72.57 562.60,74.44 564.26,76.36 565.92,78.30 567.58,80.29 569.24,82.30 570.89,84.34 572.55,86.41 574.21,88.50 575.87,90.62 577.53,92.75 579.18,94.91 580.84,97.07 582.50,99.26 584.16,101.45 585.82,103.65 587.47,105.86 589.13,108.08 590.79,110.32 592.45,112.57 594.11,114.84 595.76,117.14 597.42,119.46 599.08,121.81 600.74,124.19 602.40,126.60 604.05,129.05 605.71,131.54 607.37,134.07 609.03,136.64 610.69,139.26 612.34,141.93 614.00,144.63 615.66,147.38 617.32,150.15 618.98,152.97 620.63,155.81 622.29,158.69 623.95,161.58 625.61,164.51 627.27,167.45 628.92,170.41 630.58,173.39 632.24,176.38 633.90,179.39 635.56,182.40 637.21,185.42 638.87,188.44 640.53,191.47 642.19,194.49 643.85,197.51 645.50,200.53 647.16,203.55 648.82,206.59 650.48,209.63 652.14,212.68 653.79,215.75 655.45,218.82 657.11,221.92 658.77,225.03 660.43,228.15 662.08,231.30 663.74,234.46 665.40,237.65 667.06,240.87 668.72,244.11 670.37,247.37 672.03,250.66 673.69,253.99 675.35,257.34 677.01,260.73 678.66,264.14 680.32,267.57 681.98,271.03 683.64,274.52 685.30,278.03 686.95,281.57 688.61,285.15 690.27,288.76 691.93,292.40 693.59,296.08 695.24,299.80 696.90,303.56 698.56,307.36 700.22,311.20 701.88,315.09 703.53,319.03 705.19,323.01 706.85,327.05 708.51,331.15 710.17,335.31 711.82,339.52 713.48,343.79 715.14,348.11 716.80,352.48 718.46,356.90 720.11,361.37 721.77,365.89 723.43,370.45 725.09,375.06 726.75,379.71 728.40,384.41 730.06,389.21 731.72,394.11 733.38,399.10 735.04,404.16 736.69,409.28 738.35,414.44 740.01,419.63 741.67,424.84 743.33,430.03 744.98,435.21 746.64,440.35 748.30,445.45 749.96,450.55 751.62,455.70 753.27,460.89 754.93,466.09 756.59,471.29 758.25,476.47 759.91,481.62 761.56,486.71 763.22,491.73 764.88,496.66 766.54,501.48 768.20,506.18 769.85,510.76 771.51,515.28 773.17,519.75 774.83,524.17 776.49,528.52 778.14,532.81 779.80,537.04 781.46,541.20 783.12,545.30 784.78,549.33 786.43,553.29 788.09,557.18 789.75,560.99"/>
<rect x="124.20" y="10.2" width="667.89" height="585.70" fill="none" stroke="#000" stroke-width="2"/>
<g font-family="'Liberation Serif', serif" font-size="28" fill="#000" style="filter:grayscale(1)"><text x="108.1" y="578.68" text-anchor="end">10</text><text x="108.1" y="516.66" text-anchor="end">20</text><text x="108.1" y="454.64" text-anchor="end">30</text><text x="108.1" y="392.62" text-anchor="end">40</text><text x="108.1" y="330.60" text-anchor="end">50</text><text x="108.1" y="268.58" text-anchor="end">60</text><text x="108.1" y="206.56" text-anchor="end">70</text><text x="108.1" y="144.54" text-anchor="end">80</text><text x="108.1" y="82.52" text-anchor="end">90</text><text x="108.1" y="20.50" text-anchor="end">100</text><text x="124.20" y="633.2" text-anchor="middle">&#8211;15</text><text x="235.52" y="633.2" text-anchor="middle">&#8211;10</text><text x="346.83" y="633.2" text-anchor="middle">&#8211;5</text><text x="458.15" y="633.2" text-anchor="middle">&#160;0</text><text x="569.47" y="633.2" text-anchor="middle">&#160;5</text><text x="680.78" y="633.2" text-anchor="middle">&#160;10</text><text x="792.10" y="633.2" text-anchor="middle">&#160;15</text><text x="145.3" y="51.0">Standard col.</text><text x="145.3" y="99.6">depth 2cm</text><text x="895.5" y="40.8" text-anchor="middle">Air gap</text><text x="873.4" y="76.20" text-anchor="end">0cm</text><text x="873.4" y="104.10" text-anchor="end">1cm</text><text x="873.4" y="132.00" text-anchor="end">2cm</text><text x="873.4" y="159.90" text-anchor="end">3cm</text><text x="873.4" y="187.80" text-anchor="end">4cm</text><text x="873.4" y="215.70" text-anchor="end">5cm</text><text x="873.4" y="243.60" text-anchor="end">6cm</text><text x="873.4" y="271.50" text-anchor="end">7cm</text><text x="873.4" y="299.40" text-anchor="end">8cm</text><text x="873.4" y="327.30" text-anchor="end">9cm</text><text x="873.4" y="355.20" text-anchor="end">10cm</text></g>
<line x1="890.5" y1="66.60" x2="966.7" y2="66.60" stroke="#1b2a9c" stroke-width="1.5"/><line x1="890.5" y1="94.50" x2="966.7" y2="94.50" stroke="#1d46a4" stroke-width="1.5"/><line x1="890.5" y1="122.40" x2="966.7" y2="122.40" stroke="#1e60a8" stroke-width="1.5"/><line x1="890.5" y1="150.30" x2="966.7" y2="150.30" stroke="#1e84aa" stroke-width="1.5"/><line x1="890.5" y1="178.20" x2="966.7" y2="178.20" stroke="#1f98ae" stroke-width="1.5"/><line x1="890.5" y1="206.10" x2="966.7" y2="206.10" stroke="#1fa2a6" stroke-width="1.5"/><line x1="890.5" y1="234.00" x2="966.7" y2="234.00" stroke="#1ea290" stroke-width="1.5"/><line x1="890.5" y1="261.90" x2="966.7" y2="261.90" stroke="#1da076" stroke-width="1.5"/><line x1="890.5" y1="289.80" x2="966.7" y2="289.80" stroke="#1c9e5c" stroke-width="1.5"/><line x1="890.5" y1="317.70" x2="966.7" y2="317.70" stroke="#1c9e44" stroke-width="1.5"/><line x1="890.5" y1="345.60" x2="966.7" y2="345.60" stroke="#1c9c24" stroke-width="1.5"/>
<g font-family="'Liberation Serif', serif" font-size="34" fill="#000" style="filter:grayscale(1)"><text x="458" y="677.5" text-anchor="middle">Off&#8211;axis distance (cm)</text><text transform="translate(24.5,303.8) rotate(-90)" text-anchor="middle">Dose (%)</text></g>
</svg>
</body></html>
